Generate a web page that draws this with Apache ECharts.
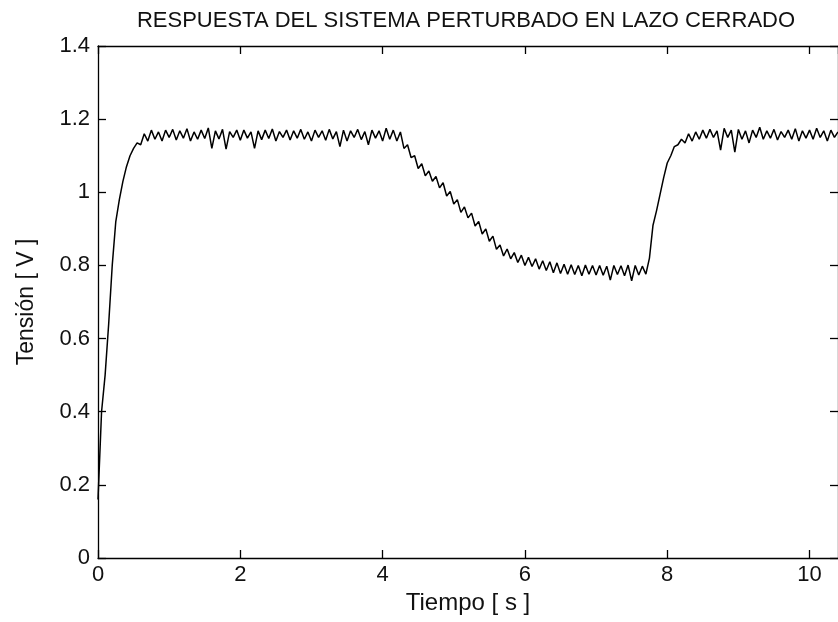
<!DOCTYPE html>
<html>
<head>
<meta charset="utf-8">
<script src="https://cdn.jsdelivr.net/npm/echarts@6/dist/echarts.min.js"></script>
<style>
html,body{margin:0;padding:0;background:#fff;}
#chart{width:838px;height:622px;}
</style>
</head>
<body>
<div id="chart"></div>
<script>
// Chart texts
const chartTitle = 'RESPUESTA DEL SISTEMA PERTURBADO EN LAZO CERRADO';
const xName = 'Tiempo [ s ]';
const yName = 'Tensión [ V ]';

// Axis ranges / ticks
const xTicks = [0, 2, 4, 6, 8, 10];
const yTicks = [0, 0.2, 0.4, 0.6, 0.8, 1, 1.2, 1.4];
const xMax = 10.4;

// Sampling period of the recorded signal (s)
const sampleStep = 0.05;

const tension = [
  0.16, 0.40, 0.50, 0.64, 0.80, 0.92, 0.98, 1.03, 1.07, 1.10,
  1.12, 1.135, 1.13, 1.16, 1.14, 1.17, 1.145, 1.165, 1.14, 1.17,
  1.15, 1.172, 1.143, 1.168, 1.148, 1.174, 1.14, 1.165, 1.145, 1.17,
  1.147, 1.176, 1.12, 1.168, 1.146, 1.172, 1.118, 1.166, 1.15, 1.17,
  1.142, 1.17, 1.148, 1.165, 1.12, 1.168, 1.144, 1.17, 1.147, 1.173,
  1.14, 1.166, 1.15, 1.17, 1.143, 1.168, 1.148, 1.172, 1.145, 1.165,
  1.14, 1.17, 1.15, 1.168, 1.142, 1.172, 1.146, 1.166, 1.125, 1.17,
  1.14, 1.168, 1.15, 1.172, 1.144, 1.166, 1.13, 1.17, 1.148, 1.168,
  1.14, 1.175, 1.145, 1.17, 1.14, 1.165, 1.12, 1.13, 1.095, 1.10,
  1.065, 1.078, 1.045, 1.058, 1.03, 1.043, 1.012, 1.026, 0.99, 1.002,
  0.968, 0.98, 0.945, 0.96, 0.93, 0.943, 0.908, 0.92, 0.886, 0.90,
  0.866, 0.88, 0.844, 0.856, 0.826, 0.845, 0.818, 0.835, 0.808, 0.828,
  0.80, 0.822, 0.797, 0.818, 0.79, 0.813, 0.786, 0.81, 0.78, 0.807,
  0.778, 0.803, 0.776, 0.802, 0.775, 0.80, 0.772, 0.801, 0.776, 0.80,
  0.774, 0.80, 0.773, 0.798, 0.76, 0.80, 0.775, 0.799, 0.772, 0.801,
  0.758, 0.80, 0.774, 0.798, 0.776, 0.82, 0.91, 0.95, 0.995, 1.04,
  1.08, 1.10, 1.125, 1.13, 1.145, 1.135, 1.16, 1.14, 1.165, 1.145,
  1.17, 1.148, 1.172, 1.15, 1.168, 1.115, 1.175, 1.15, 1.17, 1.11,
  1.172, 1.145, 1.168, 1.135, 1.17, 1.15, 1.178, 1.145, 1.168, 1.148,
  1.172, 1.143, 1.166, 1.15, 1.17, 1.145, 1.174, 1.14, 1.168, 1.148,
  1.17, 1.145, 1.175, 1.15, 1.168, 1.14, 1.17, 1.15, 1.165
];

const seriesData = tension.map((v, i) => [Number((i * sampleStep).toFixed(2)), v]);

const FONT = '"Liberation Sans", Arial, Helvetica, sans-serif';
const axisLineStyle = { color: '#000', width: 1.3 };

const chart = echarts.init(document.getElementById('chart'), null, { renderer: 'canvas' });

const xCommon = {
  type: 'value',
  min: 0,
  max: xMax,
  interval: xTicks[1] - xTicks[0],
  splitLine: { show: false },
  axisLine: { show: true, onZero: false, lineStyle: axisLineStyle },
  axisTick: { show: true, inside: true, length: 8, lineStyle: axisLineStyle }
};
const yCommon = {
  type: 'value',
  min: yTicks[0],
  max: yTicks[yTicks.length - 1],
  interval: yTicks[1] - yTicks[0],
  splitLine: { show: false },
  axisLine: { show: true, onZero: false, lineStyle: axisLineStyle },
  axisTick: { show: true, inside: true, length: 8, lineStyle: axisLineStyle }
};

chart.setOption({
  backgroundColor: '#fff',
  animation: false,
  title: {
    text: chartTitle,
    left: 466,
    top: 10,
    textAlign: 'center',
    padding: 0,
    textStyle: { fontFamily: FONT, fontSize: 22, fontWeight: 'normal', color: '#111' }
  },
  grid: { left: 98, top: 46, width: 745, height: 512, containLabel: false },
  xAxis: [
    Object.assign({}, xCommon, {
      position: 'bottom',
      name: xName,
      nameLocation: 'middle',
      nameGap: 32,
      nameTextStyle: { fontFamily: FONT, fontSize: 24, color: '#111' },
      axisLabel: {
        show: true, margin: 6, showMaxLabel: false,
        fontFamily: FONT, fontSize: 22, color: '#111',
        formatter: v => String(Number(v.toFixed(2)))
      }
    }),
    Object.assign({}, xCommon, {
      position: 'top',
      axisLabel: { show: false }
    })
  ],
  yAxis: [
    Object.assign({}, yCommon, {
      position: 'left',
      name: yName,
      nameLocation: 'middle',
      nameGap: 60,
      nameTextStyle: { fontFamily: FONT, fontSize: 23, color: '#111' },
      axisLabel: {
        show: true, margin: 8,
        fontFamily: FONT, fontSize: 22, color: '#111',
        formatter: v => String(Number(v.toFixed(2)))
      }
    }),
    Object.assign({}, yCommon, {
      position: 'right',
      axisLabel: { show: false }
    })
  ],
  series: [{
    type: 'line',
    data: seriesData,
    xAxisIndex: 0,
    yAxisIndex: 0,
    showSymbol: false,
    symbol: 'none',
    lineStyle: { color: '#000', width: 1.5 },
    clip: true
  }]
});
</script>
</body>
</html>
